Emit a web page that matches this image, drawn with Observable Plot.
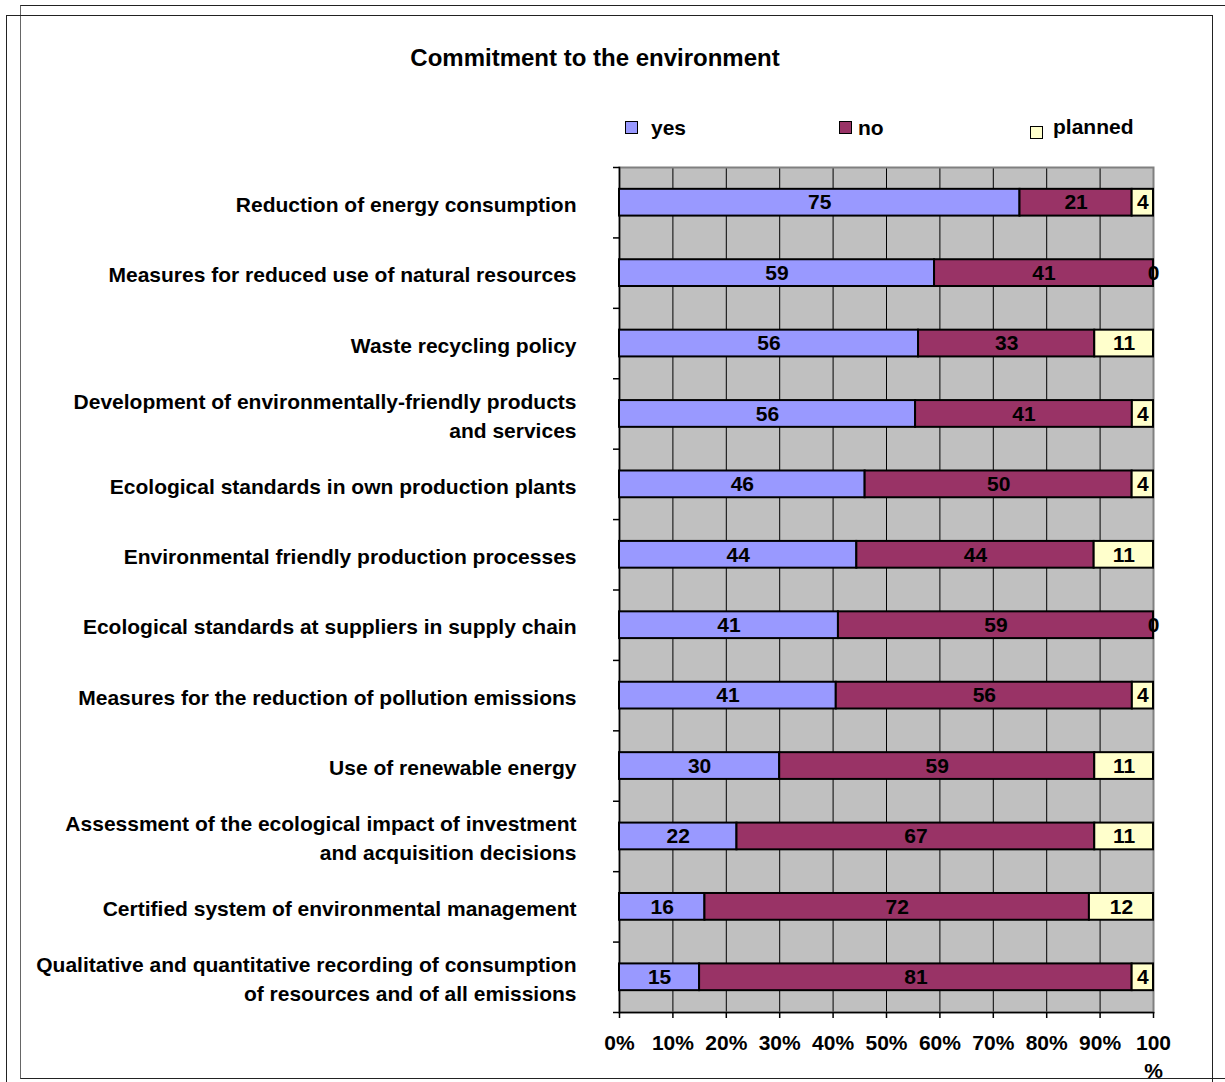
<!DOCTYPE html>
<html>
<head>
<meta charset="utf-8">
<script src="https://cdn.jsdelivr.net/npm/d3@7"></script>
<script src="https://cdn.jsdelivr.net/npm/@observablehq/plot@0.6"></script>
<style>
  html, body { margin: 0; padding: 0; background: #fff; overflow: hidden; }
  body { width: 1225px; height: 1082px; position: relative; font-family: "Liberation Sans", Arial, sans-serif; color: #000; }
  .box { position: absolute; box-sizing: border-box; }
  #title { position: absolute; left: 0; width: 1190px; top: 44px; line-height: 28px; text-align: center; font-size: 24px; font-weight: bold; }
  .leg { position: absolute; font-size: 21px; font-weight: bold; line-height: 24px; }
  .sw { position: absolute; width: 11px; height: 11px; border: 1.5px solid #000; }
  #chart { position: absolute; left: 0; top: 150px; }
</style>
</head>
<body>
<div class="box" style="left:20px; top:5px; width:1300px; height:1074px; border-top:1.5px solid #222; border-left:1.5px solid #666; border-bottom:1.5px solid #222;"></div>
<div class="box" style="left:6px; top:15px; width:1207px; height:1200px; border-top:1.5px solid #222; border-left:1.5px solid #222; border-right:1.5px solid #222;"></div>
<div id="title">Commitment to the environment</div>
<div id="legend"></div>
<div id="chart"></div>
<script>
const categories = [
  "Reduction of energy consumption",
  "Measures for reduced use of natural resources",
  "Waste recycling policy",
  "Development of environmentally-friendly products\nand services",
  "Ecological standards in own production plants",
  "Environmental friendly production processes",
  "Ecological standards at suppliers in supply chain",
  "Measures for the reduction of pollution emissions",
  "Use of renewable energy",
  "Assessment of the ecological impact of investment\nand acquisition decisions",
  "Certified system of environmental management",
  "Qualitative and quantitative recording of consumption\nof resources and of all emissions"
];
const yesValues     = [75, 59, 56, 56, 46, 44, 41, 41, 30, 22, 16, 15];
const noValues      = [21, 41, 33, 41, 50, 44, 59, 56, 59, 67, 72, 81];
const plannedValues = [ 4,  0, 11,  4,  4, 11,  0,  4, 11, 11, 12,  4];
const answers = ["yes", "no", "planned"];
const answerColors = ["#9999ff", "#993366", "#ffffcc"];
const xTicks = [0, 0.1, 0.2, 0.3, 0.4, 0.5, 0.6, 0.7, 0.8, 0.9, 1];
const xTickLabels = ["0%", "10%", "20%", "30%", "40%", "50%", "60%", "70%", "80%", "90%", "100\n%"];

const series = [yesValues, noValues, plannedValues];
const data = categories.flatMap((c, i) =>
  answers.map((a, j) => ({category: c, answer: a, value: series[j][i]})));

// legend
const legendPos = [
  {sw: [625, 121], tx: [651, 116]},
  {sw: [839, 121], tx: [858, 116]},
  {sw: [1030, 126], tx: [1053, 115]}
];
const legend = document.getElementById("legend");
answers.forEach((a, j) => {
  const s = document.createElement("div");
  s.className = "sw";
  s.style.left = legendPos[j].sw[0] + "px";
  s.style.top = legendPos[j].sw[1] + "px";
  s.style.background = answerColors[j];
  legend.appendChild(s);
  const t = document.createElement("div");
  t.className = "leg";
  t.style.left = legendPos[j].tx[0] + "px";
  t.style.top = legendPos[j].tx[1] + "px";
  t.textContent = a;
  legend.appendChild(t);
});

const H = 932, MT = 17, MB = 70;
const step = (H - MT - MB) / categories.length;
const tickLen = 6 / (1225 - 619 - 72);

const stackOpts = {offset: "normalize", order: answers, x: "value", y: "category", z: "answer"};

const chart = Plot.plot({
  width: 1225,
  height: H,
  marginLeft: 619,
  marginRight: 72,
  marginTop: MT,
  marginBottom: MB,
  style: {fontFamily: "'Liberation Sans', Arial, sans-serif", fontWeight: "bold", fontSize: "19px", color: "#000", background: "transparent", overflow: "visible"},
  x: {domain: [0, 1]},
  y: {domain: categories, paddingInner: 0.62, paddingOuter: 0.31, round: false},
  color: {domain: answers, range: answerColors},
  marks: [
    Plot.frame({fill: "#c0c0c0"}),
    Plot.gridX(xTicks, {stroke: "#000", strokeOpacity: 1, strokeWidth: 1}),
    Plot.frame({stroke: "#808080", strokeWidth: 2}),
    Plot.frame({anchor: "left", stroke: "#000", strokeWidth: 1.5}),
    Plot.frame({anchor: "bottom", stroke: "#000", strokeWidth: 1.5}),
    Plot.barX(data, Plot.stackX({...stackOpts, fill: "answer", stroke: "#000", strokeWidth: 2})),
    Plot.text(data, Plot.stackX({...stackOpts, text: d => String(d.value), fill: "#000", fontSize: 21, fontWeight: "bold"})),
    Plot.ruleY(categories, {y: d => d, dy: -step / 2, x1: -tickLen, x2: 0, stroke: "#000", strokeWidth: 1.5}),
    Plot.ruleY(categories.slice(-1), {y: d => d, dy: step / 2, x1: -tickLen, x2: 0, stroke: "#000", strokeWidth: 1.5}),
    Plot.axisY({tickSize: 0, tickPadding: 43, lineHeight: 1.38, fontSize: 21, fontWeight: "bold", fill: "#000", label: null}),
    Plot.axisX({ticks: xTicks, tickFormat: d => xTickLabels[Math.round(d * 10)], tickSize: 6, tickPadding: 12, lineHeight: 1.33, fontSize: 21, fontWeight: "bold", fill: "#000", stroke: "#000", strokeWidth: 1.5, label: null})
  ]
});
document.getElementById("chart").appendChild(chart);
</script>
</body>
</html>
